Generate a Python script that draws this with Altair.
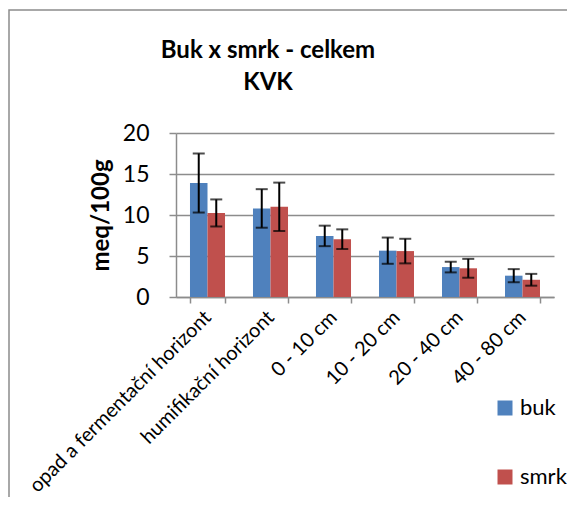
import altair as alt
import pandas as pd

categories = ["opad a fermentační horizont", "humifikační horizont", "0 - 10 cm",
              "10 - 20 cm", "20 - 40 cm", "40 - 80 cm"]
series = ["buk", "smrk"]
buk_values = [13.9, 10.8, 7.45, 5.65, 3.65, 2.6]
buk_errors = [3.6, 2.35, 1.25, 1.6, 0.65, 0.8]
smrk_values = [10.25, 11.0, 7.05, 5.6, 3.5, 2.1]
smrk_errors = [1.65, 2.95, 1.2, 1.5, 1.15, 0.72]
colors = ["#4F81BD", "#C0504D"]
title_lines = ["Buk x smrk - celkem", "KVK"]

rows = []
for name, vals, errs in [("buk", buk_values, buk_errors), ("smrk", smrk_values, smrk_errors)]:
    for c, v, e in zip(categories, vals, errs):
        rows.append({"cat": c, "series": name, "value": v, "lo": v - e, "hi": v + e})
df = pd.DataFrame(rows)

FONT = "Lato"

x_enc = alt.X("cat:N", sort=categories,
              scale=alt.Scale(paddingInner=0.444, paddingOuter=0.222),
              axis=alt.Axis(title=None, labelAngle=-45, labelAlign="right", labelBaseline="middle",
                            labelFontSize=20, labelFont=FONT, labelColor="black", labelPadding=11,
                            tickBand="extent", ticks=True, tickSize=6, tickColor="#8c8c8c",
                            domainColor="#8c8c8c", domainWidth=1.5, tickWidth=1.5, grid=False,
                            labelLimit=400))
xo_enc = alt.XOffset("series:N", sort=series, scale=alt.Scale(paddingInner=0, paddingOuter=0))
y_scale = alt.Scale(domain=[0, 20])

base = alt.Chart(df)

bars = base.mark_bar().encode(
    x=x_enc,
    xOffset=xo_enc,
    y=alt.Y("value:Q", scale=y_scale,
            axis=alt.Axis(values=[0, 5, 10, 15, 20], title="meq/100g", titleFontSize=24,
                          titleFont=FONT, titleFontWeight="bold", titleColor="black", titlePadding=9,
                          labelFontSize=23, labelFont=FONT, labelColor="black", labelPadding=20,
                          grid=True, gridColor="#8c8c8c", gridWidth=1.5,
                          domainColor="#8c8c8c", domainWidth=1.5, tickColor="#8c8c8c",
                          tickWidth=1.5, tickSize=7)),
    color=alt.Color("series:N", scale=alt.Scale(domain=series, range=colors),
                    legend=alt.Legend(title=None, orient="none", legendX=318, legendY=264,
                                      symbolType="square", symbolSize=225, symbolStrokeWidth=0,
                                      labelFontSize=22, labelFont=FONT, labelColor="black",
                                      rowPadding=47, padding=0, labelOffset=4)),
)

err = base.mark_rule(color="black", strokeWidth=2).encode(
    x=alt.X("cat:N", sort=categories), xOffset=xo_enc,
    y=alt.Y("lo:Q", scale=y_scale), y2="hi:Q")

cap_hi = base.mark_tick(color="black", thickness=2, size=12, orient="horizontal").encode(
    x=alt.X("cat:N", sort=categories), xOffset=xo_enc,
    y=alt.Y("hi:Q", scale=y_scale))
cap_lo = base.mark_tick(color="black", thickness=2, size=12, orient="horizontal").encode(
    x=alt.X("cat:N", sort=categories), xOffset=xo_enc,
    y=alt.Y("lo:Q", scale=y_scale))

one = alt.Data(values=[{"a": 1}])

frame = alt.Chart(one).mark_rect(
    fill=None, stroke="#8c8c8c", strokeWidth=1.5).encode(
    x=alt.value(-167), x2=alt.value(600), y=alt.value(-123), y2=alt.value(600))

title = alt.Chart(one).mark_text(
    font=FONT, fontSize=24, fontWeight="bold", color="black", align="center",
    baseline="alphabetic", lineHeight=32).encode(
    x=alt.value(92), y=alt.value(-75), text=alt.value(title_lines))

chart = alt.layer(frame, title, bars, err, cap_hi, cap_lo).properties(
    width=378, height=164,
    autosize=alt.AutoSizeParams(type="none"),
    padding={"left": 168, "top": 125, "right": 13, "bottom": 200},
).configure_view(stroke=None).resolve_scale(y="shared")

chart.save("out.html", embed_options={"renderer": "svg", "actions": False})
